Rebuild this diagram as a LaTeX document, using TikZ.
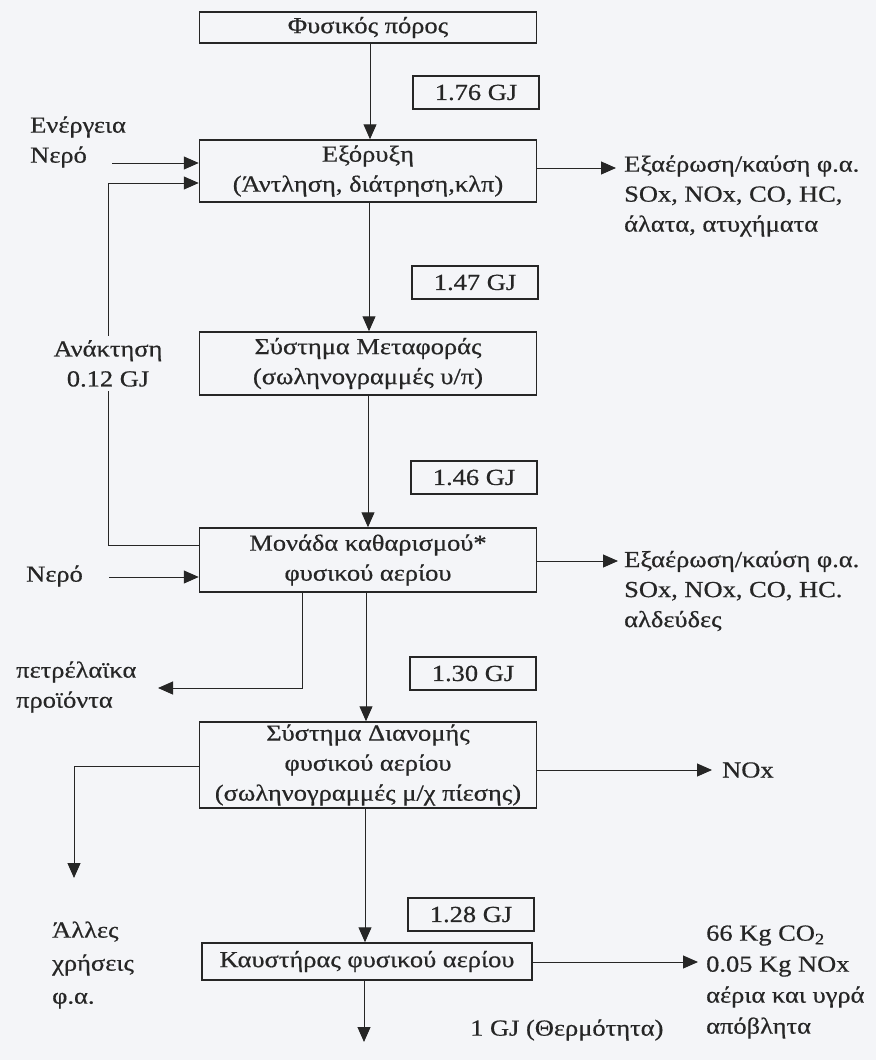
\documentclass[tikz,border=0pt]{standalone}
\usepackage{fontspec}
\setmainfont[FakeStretch=1.15, FakeBold=0.6]{Liberation Serif}
\usetikzlibrary{arrows.meta}
\definecolor{ink}{HTML}{262626}
\definecolor{bg}{HTML}{F4F5F8}
\begin{document}
\begin{tikzpicture}[x=1pt,y=-1pt,
  every node/.style={text=ink, font=\fontsize{23}{30}\selectfont},
  box/.style={draw=ink, line width=1.5pt, minimum width=337pt, align=center, inner sep=0pt},
  gj/.style={draw=ink, line width=1.4pt, minimum width=126pt, minimum height=33pt, inner sep=0pt},
  lbl/.style={align=left, inner sep=0pt, anchor=west},
  conn/.style={draw=ink, line width=1pt},
  arr/.style={conn, -{Triangle[length=15pt,width=13pt]}},
]
\fill[bg] (0,0) rectangle (876,1060);
\useasboundingbox (0,0) rectangle (876,1060);

% main boxes
\node[box, minimum height=31pt] (F) at (368,27.5) {Φυσικός πόρος};
\node[box, minimum height=62pt] (E) at (368,171) {Εξόρυξη\\(Άντληση, διάτρηση,κλπ)};
\node[box, minimum height=63pt] (S) at (368,363.5) {Σύστημα Μεταφοράς\\(σωληνογραμμές υ/π)};
\node[box, minimum height=64pt] (M) at (368,560) {Μονάδα καθαρισμού*\\φυσικού αερίου};
\node[box, minimum height=86pt] (D) at (368,765) {Σύστημα Διανομής\\φυσικού αερίου\\(σωληνογραμμές μ/χ πίεσης)};
\node[box, minimum height=37pt, minimum width=330pt] (K) at (367,961.5) {Καυστήρας φυσικού αερίου};

% energy labels
\node[gj] (g1) at (476,92.5) {1.76 GJ};
\node[gj] (g2) at (475,282.5) {1.47 GJ};
\node[gj] (g3) at (474,477.5) {1.46 GJ};
\node[gj] (g4) at (473,673.5) {1.30 GJ};
\node[gj] (g5) at (471,914.5) {1.28 GJ};

% main flow
\draw[arr] (F.south -| 370,0) -- (E.north -| 370,0);
\draw[arr] (E.south -| 369,0) -- (S.north -| 369,0);
\draw[arr] (S.south -| 368,0) -- (M.north -| 368,0);
\draw[arr] (M.south -| 366,0) -- (D.north -| 366,0);
\draw[arr] (D.south -| 365,0) -- (K.north -| 365,0);
\coordinate (bt) at (364,1042);
\draw[arr] (K.south -| bt) -- (bt);
\node[lbl] (heat) at (470,1030) {1 GJ (Θερμότητα)};

% inputs to extraction
\node[lbl] (en) at (30,127) {Ενέργεια};
\node[lbl] (ne1) at (30,157) {Νερό};
\coordinate (a1) at (112,163);
\draw[arr] (a1) -- (a1 -| E.west);

% recovery loop
\coordinate (lb) at (108,545);
\coordinate (lt) at (108,183);
\draw[arr] (lb -| M.west) -- (lb) -- (lt) -- (lt -| E.west);
\node[align=center, fill=bg, inner xsep=2pt, inner ysep=4pt] (rec) at (108,363.5) {Ανάκτηση\\0.12 GJ};

% water to treatment
\node[lbl] (ne2) at (26,576) {Νερό};
\coordinate (a2) at (109,577);
\draw[arr] (a2) -- (a2 -| M.west);

% outputs of extraction
\coordinate (o1) at (616,168);
\draw[arr] (o1 -| E.east) -- (o1);
\node[lbl] (em1) at (624,196) {Εξαέρωση/καύση φ.α.\\SOx, NOx, CO, HC,\\άλατα, ατυχήματα};

% outputs of treatment
\coordinate (o2) at (618,561);
\draw[arr] (o2 -| M.east) -- (o2);
\node[lbl] (em2) at (624,591) {Εξαέρωση/καύση φ.α.\\SOx, NOx, CO, HC.\\αλδεύδες};

% petroleum products
\coordinate (pb) at (302,688);
\coordinate (pt) at (158,688);
\draw[arr] (pb |- M.south) -- (pb) -- (pt);
\node[lbl] (pet) at (16,687) {πετρέλαϊκα\\προϊόντα};

% other uses
\coordinate (db) at (74,766);
\coordinate (dt) at (74,878);
\draw[arr] (db -| D.west) -- (db) -- (dt);
\node[lbl, font=\fontsize{23}{33}\selectfont] (oth) at (52,965) {Άλλες\\χρήσεις\\φ.α.};

% NOx from distribution
\coordinate (o3) at (712,770);
\draw[arr] (o3 -| D.east) -- (o3);
\node[lbl] (nox) at (722,770) {NOx};

% burner emissions
\coordinate (o4) at (698,962);
\draw[arr] (o4 -| K.east) -- (o4);
\node[lbl, font=\fontsize{23}{31}\selectfont] (em4) at (706,982) {66 Kg CO\textsubscript{2}\\0.05 Kg NOx\\αέρια και υγρά\\απόβλητα};
\end{tikzpicture}
\end{document}
